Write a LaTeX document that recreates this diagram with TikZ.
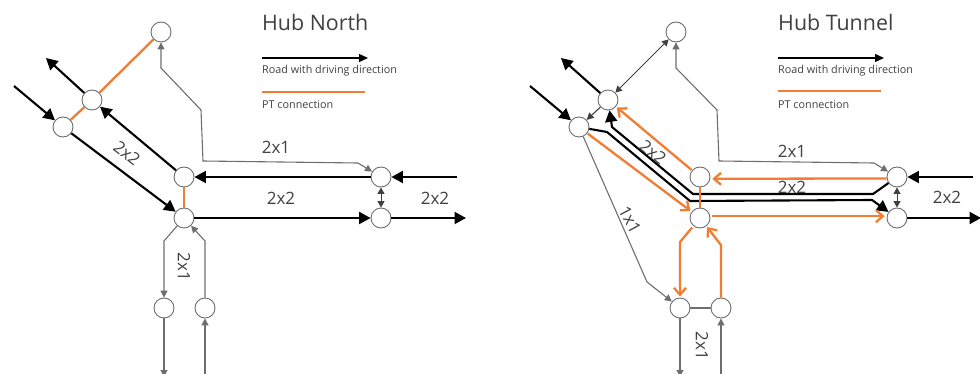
\documentclass[tikz,border=0pt]{standalone}
\usepackage{fontspec}
\setmainfont{Open Sans}
\usetikzlibrary{arrows.meta}
\definecolor{ptorange}{HTML}{F07D32}
\definecolor{hubgray}{HTML}{6E6E6E}
\definecolor{txtgray}{HTML}{404040}
\tikzset{
  hub/.style={circle,draw=hubgray,fill=white,line width=0.9pt,minimum size=20pt,inner sep=0pt},
  road/.style={draw=black,line width=2.1pt,-{Triangle[length=11.5pt,width=12pt]}},
  slim/.style={draw=hubgray,line width=1.1pt,-{Triangle[length=7pt,width=7pt]}},
  slimline/.style={draw=hubgray,line width=1.1pt},
  slimboth/.style={draw=black!75,line width=1pt,{Triangle[length=6.5pt,width=7pt]}-{Triangle[length=6.5pt,width=7pt]}},
  pt/.style={draw=ptorange,line width=2.3pt},
  ptarrow/.style={draw=ptorange,line width=2.3pt,-{Straight Barb[length=7pt,width=12pt,line width=2.3pt]}},
  legendarrow/.style={draw=black,line width=1.3pt,-{Triangle[length=9pt,width=8pt]}},
  title/.style={text=txtgray,font=\fontsize{21.4}{24}\selectfont,anchor=west,inner sep=0pt},
  legendtext/.style={text=txtgray,font=\fontsize{10.8}{12}\selectfont,anchor=west,inner sep=0pt},
  lanelabel/.style={text=txtgray,font=\fontsize{17}{20}\selectfont,inner sep=0pt}
}
\begin{document}
\begin{tikzpicture}[x=1pt,y=-1pt]
\useasboundingbox (0,0) rectangle (980,374);
\clip (0,0) rectangle (980,374);
% ---- Hub North nodes
\node[hub] (A) at (161,32) {};
\node[hub] (B) at (92,100) {};
\node[hub] (C) at (63,127) {};
\node[hub] (D) at (184,177) {};
\node[hub] (E) at (184,218) {};
\node[hub] (F) at (381,177) {};
\node[hub] (G) at (381,218) {};
\node[hub] (H) at (164,308) {};
\node[hub] (I) at (205,308) {};
\coordinate (inC) at (14,86);
\coordinate (outB) at (46,58);
\coordinate (inF) at (457,177);
\coordinate (outG) at (466,218);
\coordinate (outH) at (164,377);
\coordinate (inI) at (205,374);
\coordinate (g1) at (358,163);
\coordinate (g2) at (203,161);
\coordinate (g3) at (201,110);
\coordinate (g4) at (161,68);
\coordinate (h1) at (164,241);
\coordinate (i1) at (205,241);
\draw[road] (inC) -- (C);
\draw[road] (B) -- (outB);
\draw[road] (C) -- (E);
\draw[road] (D) -- (B);
\draw[road] (inF) -- (F);
\draw[road] (F) -- (D);
\draw[road] (E) -- (G);
\draw[road] (G) -- (outG);
\draw[pt] (A) -- (B);
\draw[pt] (B) -- (C);
\draw[pt] (D) -- (E);
\draw[slim] (g1) -- (g2) -- (g3) -- (g4) -- (A);
\draw[slim] (g1) -- (F);
\draw[slimboth] (F) -- (G);
\draw[slim] (E) -- (h1) -- (H);
\draw[slim] (I) -- (i1) -- (E);
\draw[slim] (H) -- (outH);
\draw[slim] (inI) -- (I);
\node[lanelabel] (l1) at (276,147) {2x1};
\node[lanelabel] (l2) at (281,198) {2x2};
\node[lanelabel] (l3) at (435,198) {2x2};
\node[lanelabel,rotate=-90] (l4) at (184,267) {2x1};
\node[lanelabel,rotate=-38] (l5) at (127,153) {2x2};
\node[title] (t1) at (262,22) {Hub North};
\coordinate (la1) at (262,58);
\coordinate (la2) at (368,58);
\draw[legendarrow] (la1) -- (la2);
\node[legendtext] (lt1) at (262,71) {Road with driving direction};
\coordinate (lb1) at (262,92);
\coordinate (lb2) at (365,92);
\draw[pt] (lb1) -- (lb2);
\node[legendtext] (lt2) at (262,105) {PT connection};
% ---- Hub Tunnel nodes
\node[hub] (Ar) at (676,32) {};
\node[hub] (Br) at (608,100) {};
\node[hub] (Cr) at (579,127) {};
\node[hub] (Dr) at (700,177) {};
\node[hub] (Er) at (700,218) {};
\node[hub] (Fr) at (897,177) {};
\node[hub] (Gr) at (897,218) {};
\node[hub] (Hr) at (680,308) {};
\node[hub] (Ir) at (721,308) {};
\coordinate (inCr) at (530,86);
\coordinate (outBr) at (561,58);
\coordinate (inFr) at (973,177);
\coordinate (outGr) at (981,218);
\coordinate (outHr) at (680,377);
\coordinate (inIr) at (721,374);
\coordinate (r1) at (874,163);
\coordinate (r2) at (719,161);
\coordinate (r3) at (717,110);
\coordinate (r4) at (676,68);
\coordinate (u1) at (873,194);
\coordinate (u2) at (693,194);
\coordinate (u3) at (612,127);
\coordinate (v1) at (607,132);
\coordinate (v2) at (690,201);
\coordinate (v3) at (872,200);
\coordinate (hr1) at (680,242);
\coordinate (ir1) at (721,245);
\coordinate (x1) at (647,282);
\draw[road] (inCr) -- (Cr);
\draw[road] (Br) -- (outBr);
\draw[road] (inFr) -- (Fr);
\draw[road] (Gr) -- (outGr);
\draw[road] (Fr) -- (u1) -- (u2) -- (u3) -- (Br);
\draw[road] (Cr) -- (v1) -- (v2) -- (v3) -- (Gr);
\draw[slimboth] (Ar) -- (Br);
\draw[slim,draw=black!75] (Br) -- (Cr);
\draw[slim] (r1) -- (r2) -- (r3) -- (r4) -- (Ar);
\draw[slim] (r1) -- (Fr);
\draw[slimboth] (Fr) -- (Gr);
\draw[slim] (Cr) -- (x1) -- (Hr);
\draw[slimline] (Hr) -- (Ir);
\draw[slim] (Hr) -- (outHr);
\draw[slim] (inIr) -- (Ir);
\draw[ptarrow,shorten >=1.5pt,shorten <=0.5pt] (Cr) -- (Er);
\draw[ptarrow,shorten >=1pt,shorten <=0.5pt] (Dr) -- (Br);
\draw[ptarrow,shorten >=2pt] (Fr.188) -- (Dr.-10);
\draw[ptarrow,shorten >=2pt,shorten <=2pt] (Er.10) -- (Gr.170);
\draw[pt] (Dr) -- (Er);
\draw[ptarrow,shorten <=2pt,shorten >=1pt] (Er) -- (hr1) -- (Hr);
\draw[ptarrow,shorten >=1pt] (Ir) -- (ir1) -- (Er);
\node[lanelabel] (r-l1) at (792,151) {2x1};
\node[lanelabel] (r-l2) at (792,187) {2x2};
\node[lanelabel] (r-l3) at (947,197) {2x2};
\node[lanelabel,rotate=-90] (r-l4) at (702,346) {2x1};
\node[lanelabel,rotate=-38] (r-l5) at (653,152) {2x2};
\node[lanelabel,rotate=-62] (r-l6) at (630,220) {1x1};
\node[title] (t2) at (778,22) {Hub Tunnel};
\coordinate (rla1) at (778,58);
\coordinate (rla2) at (884,58);
\draw[legendarrow] (rla1) -- (rla2);
\node[legendtext] (rlt1) at (778,71) {Road with driving direction};
\coordinate (rlb1) at (778,91);
\coordinate (rlb2) at (881,91);
\draw[pt] (rlb1) -- (rlb2);
\node[legendtext] (rlt2) at (778,105) {PT connection};
\end{tikzpicture}
\end{document}
